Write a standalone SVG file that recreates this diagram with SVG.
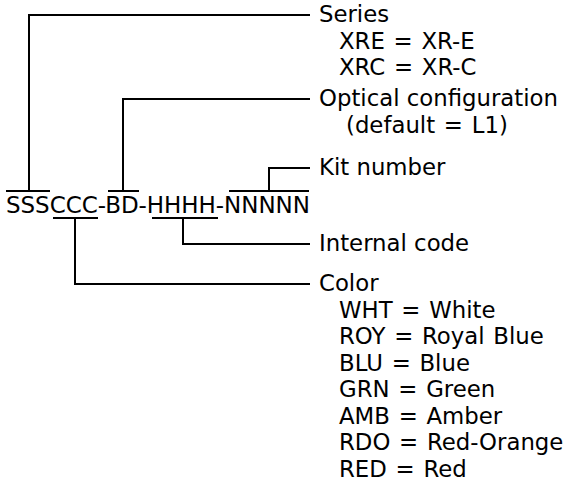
<svg xmlns="http://www.w3.org/2000/svg" width="568" height="485" viewBox="0 0 568 485">
<style>
.l{font-family:"DejaVu Sans","Liberation Sans",sans-serif;font-size:22.8px;fill:#000}
.e{word-spacing:1.5px}
.m{font-family:"DejaVu Sans","Liberation Sans",sans-serif;font-size:23px;fill:#000}
.c{fill:none;stroke:#000;stroke-width:2}
</style>
<rect width="568" height="485" fill="#fff"/>
<g id="connectors">
<path class="c" d="M29,191 V15 H310"/>
<path class="c" d="M6,191 H50"/>
<path class="c" d="M123,191 V99 H310"/>
<path class="c" d="M108,191 H139"/>
<path class="c" d="M269,191 V168 H310"/>
<path class="c" d="M229,191 H309"/>
<path class="c" d="M53,218 H98"/>
<path class="c" d="M75,218 V284 H310"/>
<path class="c" d="M152,218 H218"/>
<path class="c" d="M183,218 V244 H310"/>
</g>
<g id="code">
<text class="m" x="6" y="213" textLength="304" lengthAdjust="spacing">SSSCCC-BD-HHHH-NNNNN</text>
</g>
<g id="series">
<text class="l" x="319" y="22">Series</text>
<text class="l e" x="339" y="48.5">XRE = XR-E</text>
<text class="l e" x="339" y="75">XRC = XR-C</text>
</g>
<g id="optical">
<text class="l" x="319" y="106">Optical configuration</text>
<text class="l e" x="346" y="132.5">(default = L1)</text>
</g>
<g id="kit">
<text class="l" x="319" y="175">Kit number</text>
</g>
<g id="internal">
<text class="l" x="319" y="251">Internal code</text>
</g>
<g id="color">
<text class="l" x="319" y="291">Color</text>
<text class="l e" x="339" y="317.5">WHT = White</text>
<text class="l e" x="339" y="344">ROY = Royal Blue</text>
<text class="l e" x="339" y="370.5">BLU = Blue</text>
<text class="l e" x="339" y="397">GRN = Green</text>
<text class="l e" x="339" y="423.5">AMB = Amber</text>
<text class="l e" x="339" y="450">RDO = Red-Orange</text>
<text class="l e" x="339" y="476.5">RED = Red</text>
</g>
</svg>
